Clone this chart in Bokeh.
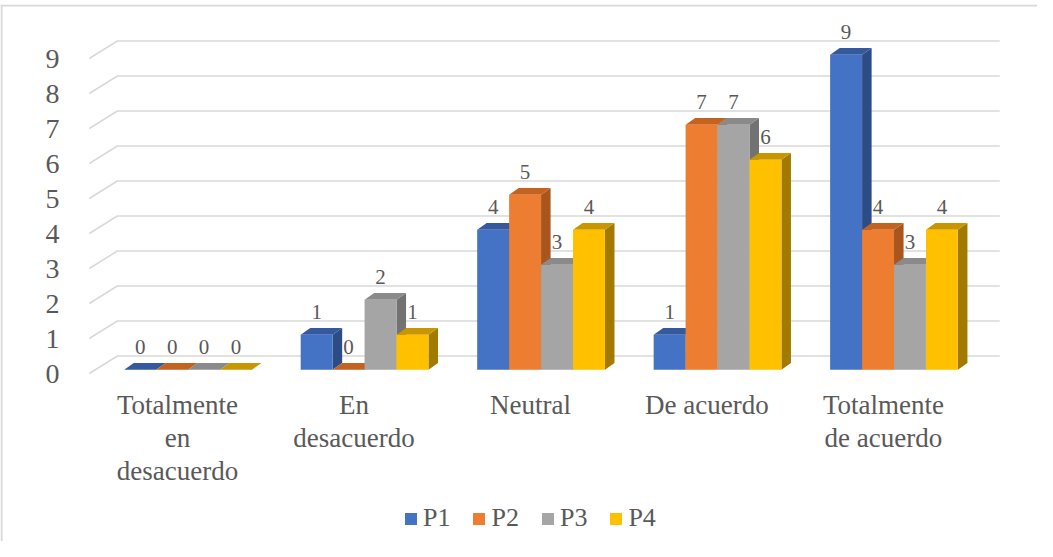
from bokeh.plotting import figure
from bokeh.models import Range1d, Legend, LegendItem, Span
from bokeh.core.properties import value
from bokeh.embed import file_html
from bokeh.resources import INLINE

# ---- data ----
categories = ["Totalmente\nen\ndesacuerdo", "En\ndesacuerdo", "Neutral", "De acuerdo", "Totalmente\nde acuerdo"]
series_names = ["P1", "P2", "P3", "P4"]
P1 = [0, 1, 4, 1, 9]
P2 = [0, 0, 5, 7, 4]
P3 = [0, 2, 3, 7, 3]
P4 = [0, 1, 4, 6, 4]
y_ticks = [0, 1, 2, 3, 4, 5, 6, 7, 8, 9]

# ---- style ----
FONT = "Liberation Serif"
TXT = "#595959"
GRID = "#D9D9D9"
front_cols = ["#4472C4", "#ED7D31", "#A5A5A5", "#FFC000"]
side_cols = ["#2C4C86", "#A9561E", "#727272", "#A27A00"]
top_cols = ["#35599E", "#C4621F", "#8A8A8A", "#C79600"]

# geometry (data units: 1 x-unit = one category, 1 y-unit = one value step)
WALL_DX, WALL_DY = 0.159, 0.5      # depth of the floor/back wall
BAR_DX, BAR_DY = 0.054, 0.19       # depth of each bar
SHIFT_X, SHIFT_Y = 0.06, 0.11      # bars sit slightly behind the front plane
BW = 0.181                          # bar width
n_cat = len(categories)

X0, X1 = -1.003, 4.873
Y0, Y1 = -4.8, 10.543
p = figure(width=1037, height=541, output_backend="svg", toolbar_location=None,
           x_axis_location=None, y_axis_location=None,
           x_range=Range1d(X0, X1), y_range=Range1d(Y0, Y1),
           min_border_left=0, min_border_right=0, min_border_top=4, min_border_bottom=0)
p.grid.visible = False
p.outline_line_color = None
p.background_fill_color = "white"

# chart-area border (only left and top edges are visible in the reference)
p.add_layout(Span(location=X0 + 0.006, dimension="height", line_color=GRID, line_width=2))
p.add_layout(Span(location=Y1 - 0.03, dimension="width", line_color=GRID, line_width=2))

# gridlines with the 3D floor/back-wall diagonals
xs, ys = [], []
for v in y_ticks:
    xs.append([-0.5, -0.5 + WALL_DX, n_cat - 0.5 + WALL_DX])
    ys.append([v, v + WALL_DY, v + WALL_DY])
p.multi_line(xs=xs, ys=ys, line_color=GRID, line_width=1.5)

# y tick labels
p.text(x=[-0.669] * len(y_ticks), y=y_ticks, text=[str(v) for v in y_ticks],
       text_font=value(FONT), text_font_size="28px", text_color=TXT,
       text_align="right", text_baseline="middle")

# category labels
p.text(x=list(range(n_cat)), y=[-0.46] * n_cat, text=categories,
       text_font=value(FONT), text_font_size="27px", text_color=TXT,
       text_align="center", text_baseline="top", text_line_height=1.1)

all_series = [P1, P2, P3, P4]
legend_items = []
for k, vals in enumerate(all_series):
    cx = [i + SHIFT_X + (k - 1.5) * BW for i in range(n_cat)]
    left = [c - BW / 2 for c in cx]
    right = [c + BW / 2 for c in cx]
    base = [SHIFT_Y] * n_cat
    top = [v + SHIFT_Y for v in vals]
    side_xs = [[r, r + BAR_DX, r + BAR_DX, r] for r in right]
    side_ys = [[b, b + BAR_DY, t + BAR_DY, t] for b, t in zip(base, top)]
    top_xs = [[l, l + BAR_DX, r + BAR_DX, r] for l, r in zip(left, right)]
    top_ys = [[t, t + BAR_DY, t + BAR_DY, t] for t in top]
    p.patches(xs=side_xs, ys=side_ys, fill_color=side_cols[k], line_color=None)
    p.patches(xs=top_xs, ys=top_ys, fill_color=top_cols[k], line_color=None)
    fr = p.quad(left=left, right=right, bottom=base, top=top,
                fill_color=front_cols[k], line_color=None)
    legend_items.append(LegendItem(label=series_names[k], renderers=[fr]))

# data labels (drawn after all bars)
for k, vals in enumerate(all_series):
    cx = [i + SHIFT_X + (k - 1.5) * BW for i in range(n_cat)]
    p.text(x=cx, y=[v + SHIFT_Y + 0.65 for v in vals], text=[str(v) for v in vals],
           text_font=value(FONT), text_font_size="21px", text_color=TXT,
           text_align="center", text_baseline="middle")

legend = Legend(items=legend_items, orientation="horizontal", location=(403, 8))
legend.glyph_width = 15
legend.glyph_height = 15
legend.label_standoff = 5
legend.spacing = 21
legend.padding = 0
legend.margin = 0
legend.label_text_font = FONT
legend.label_text_font_size = "26px"
legend.label_text_color = TXT
legend.background_fill_alpha = 0
legend.border_line_alpha = 0
p.add_layout(legend, "center")

open("out.html", "w").write(file_html(p, INLINE))
